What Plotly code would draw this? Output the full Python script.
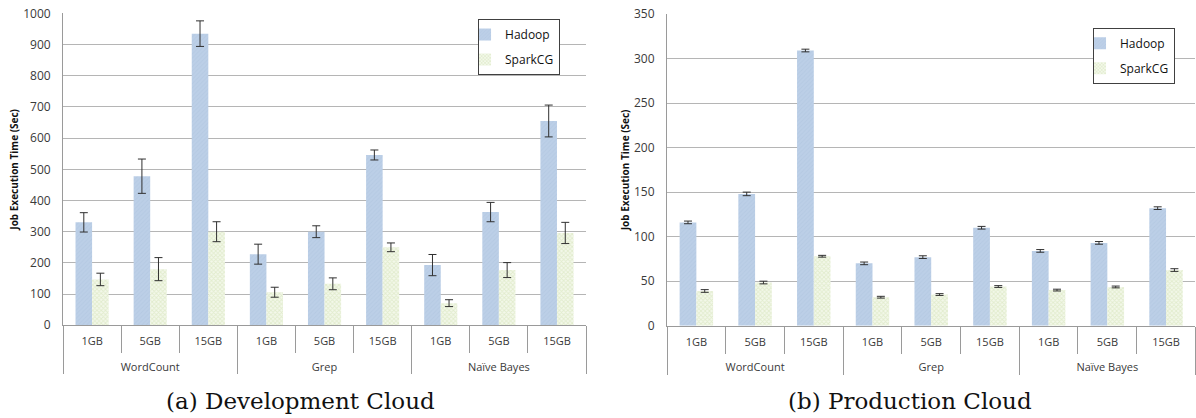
import plotly.graph_objects as go

groups = ["WordCount"] * 3 + ["Grep"] * 3 + ["Naïve Bayes"] * 3
sizes = ["1GB", "5GB", "15GB"] * 3

# (a) Development Cloud
dev_hadoop = [330, 478, 935, 228, 300, 546, 193, 363, 655]
dev_hadoop_err = [31, 55, 41, 32, 19, 16, 34, 31, 51]
dev_spark = [147, 180, 300, 106, 133, 250, 71, 177, 296]
dev_spark_err = [20, 37, 32, 16, 19, 14, 11, 24, 34]

# (b) Production Cloud
prod_hadoop = [116, 148, 309, 70, 77, 110, 84, 93, 132]
prod_hadoop_err = [1.5, 2, 1.5, 1.5, 1.5, 1.5, 1.5, 1.5, 1.5]
prod_spark = [39, 48.5, 78, 32, 35, 44, 40, 43.5, 62.5]
prod_spark_err = [1.5, 1.5, 1, 1, 1, 1, 1, 1, 1.5]

FONT = "Open Sans"
TXT = "#3a3a3a"
HAD_BG = "#bccfe7"
HAD_FG = "#aec3df"
SPK_BG = "#f3f8ea"
SPK_FG = "#cfe0b0"

# inner labels get an empty second line so the group row sits lower
size_labels = [s + "<br>\u00a0" for s in sizes]

fig = go.Figure()


def add(xa, ya, leg, h, he, s, se):
    x = [groups, size_labels]
    fig.add_trace(go.Bar(
        x=x, y=h, name="Hadoop", xaxis=xa, yaxis=ya, legend=leg,
        legendgroup=leg + "h",
        marker=dict(color=HAD_BG, line=dict(width=0),
                    pattern=dict(shape="/", fgcolor=HAD_FG, bgcolor=HAD_BG,
                                 size=3, solidity=0.3)),
        error_y=dict(type="data", array=he, color="#303030",
                     thickness=1, width=4),
    ))
    fig.add_trace(go.Bar(
        x=x, y=s, name="SparkCG", xaxis=xa, yaxis=ya, legend=leg,
        legendgroup=leg + "s",
        marker=dict(color=SPK_BG, line=dict(width=0),
                    pattern=dict(shape="x", fgcolor=SPK_FG, bgcolor=SPK_BG,
                                 size=3, solidity=0.5)),
        error_y=dict(type="data", array=se, color="#303030",
                     thickness=1, width=4),
    ))


add("x", "y", "legend", dev_hadoop, dev_hadoop_err, dev_spark, dev_spark_err)
add("x2", "y2", "legend2", prod_hadoop, prod_hadoop_err, prod_spark,
    prod_spark_err)

xcommon = dict(
    type="multicategory", showline=True, linecolor="#9a9a9a",
    ticks="outside", tickson="boundaries", ticklen=27, tickcolor="#9a9a9a",
    ticklabelstandoff=6,
    showdividers=True, dividercolor="#9a9a9a", dividerwidth=1,
    tickfont=dict(family=FONT, size=11, color=TXT), showgrid=False,
    automargin=False,
)
ycommon = dict(
    showline=True, linecolor="#9a9a9a", gridcolor="#b5b5b5", gridwidth=1,
    zeroline=False, ticks="outside", ticklen=9, tickcolor="rgba(0,0,0,0)",
    tickfont=dict(family=FONT, size=12, color=TXT), automargin=False,
    title=dict(text="<b>Job Execution Time (Sec)</b>",
               font=dict(family=FONT, size=10, color="#111"), standoff=2),
)

legcommon = dict(
    bordercolor="#404040", borderwidth=1, bgcolor="white",
    font=dict(family=FONT, size=12, color="#111"),
    xanchor="left", yanchor="top", tracegroupgap=6, itemwidth=30,
    indentation=-14,
)

fig.update_layout(
    width=1196, height=418,
    margin=dict(l=0, r=0, t=0, b=0, autoexpand=False),
    plot_bgcolor="white", paper_bgcolor="white",
    barmode="group", bargap=0.43, bargroupgap=0,
    xaxis=dict(domain=[0.0527, 0.490], anchor="y", **xcommon),
    xaxis2=dict(domain=[0.5577, 0.9995], anchor="y2", **xcommon),
    yaxis=dict(domain=[0.2218, 0.968], anchor="x", range=[0, 1000],
               dtick=100, **ycommon),
    yaxis2=dict(domain=[0.2208, 0.9665], anchor="x2", range=[0, 350],
                dtick=50, **ycommon),
    legend=dict(x=0.3997, y=0.9545, **legcommon),
    legend2=dict(x=0.9139, y=0.9337, **legcommon),
    annotations=[
        dict(text="(a) Development Cloud", x=0.251, y=0.04, xref="paper",
             yref="paper", showarrow=False, xanchor="center",
             yanchor="middle",
             font=dict(family="DejaVu Serif", size=23, color="#111")),
        dict(text="(b) Production Cloud", x=0.761, y=0.04, xref="paper",
             yref="paper", showarrow=False, xanchor="center",
             yanchor="middle",
             font=dict(family="DejaVu Serif", size=23, color="#111")),
    ],
)

fig.write_html(
    "out.html",
    config={"displayModeBar": False},
    post_script="document.body.style.margin='0';"
                "document.body.style.padding='0';",
)
